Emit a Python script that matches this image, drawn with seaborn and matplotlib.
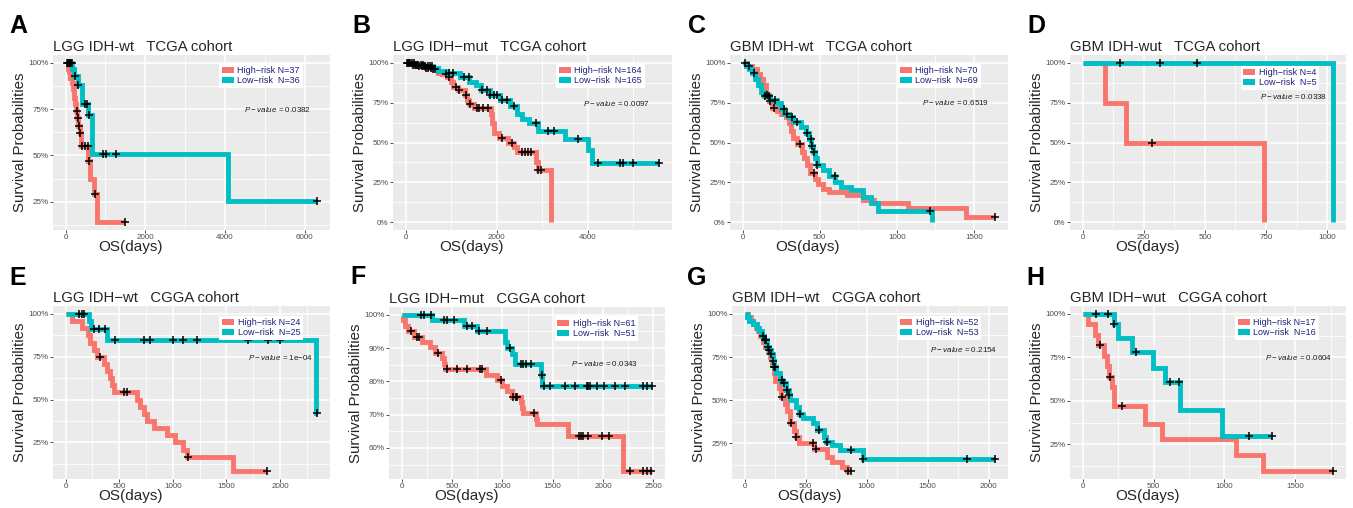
import numpy as np
import pandas as pd
import matplotlib
matplotlib.use("Agg")
import matplotlib.pyplot as plt
from matplotlib.patches import Patch
from matplotlib.ticker import AutoMinorLocator
import seaborn as sns

# ---------------- DATA ----------------
# Panel A: LGG IDH-wt TCGA
A_hi_t = [0, 50, 90, 120, 150, 190, 220, 245, 265, 290, 320, 350, 390, 570, 610, 720, 800, 1500]
A_hi_s = [1.0, 0.97, 0.95, 0.92, 0.89, 0.86, 0.81, 0.78, 0.74, 0.70, 0.66, 0.62, 0.55, 0.47, 0.37, 0.29, 0.14, 0.14]
A_hi_c = [280, 300, 335, 365, 400, 480, 550, 585, 750, 1500]
A_lo_t = [0, 160, 220, 300, 400, 570, 650, 4070, 6315]
A_lo_s = [1.0, 0.97, 0.93, 0.88, 0.78, 0.72, 0.51, 0.254, 0.254]
A_lo_c = [40, 70, 90, 110, 130, 150, 240, 320, 490, 540, 590, 940, 1020, 1270, 6315]

# Panel B: LGG IDH-mut TCGA
B_hi_t = [0, 150, 300, 450, 600, 700, 800, 900, 1000, 1050, 1150, 1300, 1350, 1400, 1500,
          1870, 1900, 1950, 2050, 2250, 2380, 2450, 2870, 2900, 3190]
B_hi_s = [1.0, 0.99, 0.98, 0.97, 0.96, 0.94, 0.93, 0.91, 0.88, 0.85, 0.83, 0.80, 0.77, 0.74, 0.72,
          0.68, 0.62, 0.56, 0.53, 0.50, 0.47, 0.44, 0.38, 0.33, 0.0]
B_hi_c = [50, 100, 150, 200, 250, 300, 350, 400, 450, 500, 550, 600, 650, 880, 960, 1100, 1180,
          1330, 1420, 1560, 1620, 1700, 1800, 2120, 2330, 2550, 2620, 2690, 2760, 2910, 2970]
B_lo_t = [0, 200, 400, 600, 700, 900, 1200, 1400, 1550, 1650, 1850, 2080, 2300, 2450, 2550,
          2700, 2900, 3500, 4000, 4100, 5570]
B_lo_s = [1.0, 0.99, 0.98, 0.97, 0.95, 0.94, 0.91, 0.88, 0.86, 0.83, 0.80, 0.77, 0.73, 0.68, 0.65,
          0.62, 0.57, 0.52, 0.45, 0.37, 0.37]
B_lo_c = [30, 80, 130, 180, 230, 280, 330, 380, 430, 480, 530, 580, 950, 1050, 1280, 1380, 1680,
          1790, 1860, 1940, 2010, 2120, 2230, 2380, 2860, 3120, 3265, 3780, 4220, 4700, 4775, 5000, 5570]

# Panel C: GBM IDH-wt TCGA
C_hi_t = [0, 30, 60, 90, 110, 130, 150, 170, 190, 220, 250, 280, 300, 315, 330, 350, 385, 400,
          420, 440, 470, 490, 520, 560, 680, 780, 850, 1070, 1450, 1640]
C_hi_s = [1.0, 0.98, 0.96, 0.93, 0.90, 0.86, 0.80, 0.76, 0.72, 0.70, 0.68, 0.66, 0.62, 0.57,
          0.53, 0.49, 0.44, 0.40, 0.36, 0.31, 0.27, 0.24, 0.21, 0.19, 0.17, 0.14, 0.12, 0.09, 0.03, 0.03]
C_hi_c = [160, 175, 205, 370, 465, 1640]
C_lo_t = [0, 20, 40, 60, 80, 100, 120, 140, 180, 220, 250, 270, 300, 330, 380, 410, 430, 445,
          455, 470, 480, 520, 560, 600, 640, 700, 780, 830, 880, 1230]
C_lo_s = [1.0, 0.98, 0.96, 0.94, 0.90, 0.86, 0.82, 0.79, 0.77, 0.75, 0.71, 0.68, 0.66, 0.63,
          0.60, 0.56, 0.52, 0.48, 0.44, 0.40, 0.36, 0.33, 0.29, 0.25, 0.22, 0.20, 0.16, 0.12, 0.07, 0.0]
C_lo_c = [15, 39, 71, 147, 169, 212, 266, 288, 320, 353, 418, 444, 450, 461, 483, 597, 1219]

# Panel D: GBM IDH-wut TCGA
D_hi_t = [0, 92, 176, 740]
D_hi_s = [1.0, 0.75, 0.5, 0.0]
D_hi_c = [285]
D_lo_t = [0, 1026]
D_lo_s = [1.0, 0.0]
D_lo_c = [153, 315, 466]

# Panel E: LGG IDH-wt CGGA
E_hi_t = [0, 62, 155, 208, 232, 263, 294, 356, 388, 418, 434, 450, 666, 697, 728, 760, 821,
          945, 1023, 1100, 1131, 1565, 1875]
E_hi_s = [1.0, 0.958, 0.917, 0.875, 0.833, 0.792, 0.75, 0.708, 0.667, 0.625, 0.583, 0.542,
          0.50, 0.458, 0.417, 0.375, 0.333, 0.292, 0.25, 0.208, 0.167, 0.083, 0.083]
E_hi_c = [325, 543, 574, 1147, 1875]
E_lo_t = [0, 217, 233, 388, 2340, 2350]
E_lo_s = [1.0, 0.958, 0.913, 0.845, 0.423, 0.423]
E_lo_c = [124, 155, 170, 263, 310, 372, 459, 728, 790, 1007, 1100, 1224, 1705, 1890, 2000, 2350]

# Panel F: LGG IDH-mut CGGA
F_hi_t = [0, 10, 30, 60, 120, 200, 280, 330, 400, 420, 430, 840, 950, 1000, 1050, 1100, 1190,
          1200, 1210, 1330, 1340, 1650, 2200, 2490]
F_hi_s = [1.0, 0.984, 0.967, 0.951, 0.934, 0.918, 0.902, 0.885, 0.869, 0.852, 0.836, 0.820,
          0.803, 0.787, 0.770, 0.754, 0.738, 0.721, 0.705, 0.688, 0.672, 0.636, 0.53, 0.53]
F_hi_c = [90, 150, 170, 360, 450, 550, 650, 780, 800, 990, 1110, 1140, 1150, 1310, 1760, 1780,
          1800, 1850, 1990, 2060, 2270, 2400, 2440, 2480]
F_lo_t = [0, 300, 620, 750, 1030, 1050, 1100, 1130, 1380, 1395, 2490]
F_lo_s = [1.0, 0.984, 0.967, 0.951, 0.917, 0.90, 0.882, 0.853, 0.82, 0.785, 0.785]
F_lo_c = [191, 224, 290, 422, 455, 521, 653, 702, 768, 851, 1072, 1181, 1210, 1240, 1280, 1389,
          1418, 1478, 1626, 1725, 1840, 1855, 1870, 1940, 2005, 2121, 2220, 2401, 2440, 2483]

# Panel G: GBM IDH-wt CGGA
G_hi_t = [0, 30, 50, 70, 90, 110, 130, 150, 170, 190, 210, 226, 240, 253, 280, 300, 330, 348,
          375, 402, 421, 443, 570, 674, 720, 796, 840, 875]
G_hi_s = [1.0, 0.98, 0.96, 0.94, 0.92, 0.90, 0.87, 0.84, 0.81, 0.78, 0.75, 0.71, 0.66, 0.61,
          0.57, 0.52, 0.48, 0.44, 0.37, 0.32, 0.29, 0.25, 0.22, 0.17, 0.145, 0.115, 0.09, 0.09]
G_hi_c = [307, 380, 425, 557, 584, 845, 875]
G_lo_t = [0, 20, 40, 70, 100, 120, 140, 160, 180, 200, 220, 230, 245, 260, 290, 310, 340, 360,
          375, 420, 450, 480, 560, 590, 650, 670, 720, 780, 970, 2055]
G_lo_s = [1.0, 0.98, 0.96, 0.94, 0.92, 0.90, 0.87, 0.85, 0.81, 0.79, 0.77, 0.73, 0.69, 0.66,
          0.62, 0.60, 0.56, 0.53, 0.50, 0.46, 0.42, 0.40, 0.37, 0.33, 0.29, 0.26, 0.24, 0.21, 0.16, 0.16]
G_lo_c = [150, 166, 177, 193, 204, 220, 231, 245, 253, 307, 326, 348, 361, 457, 606, 674, 870,
          973, 1823, 2055]

# Panel H: GBM IDH-wut CGGA
H_hi_t = [0, 40, 90, 110, 150, 170, 185, 210, 225, 440, 560, 1080, 1270, 1768]
H_hi_s = [1.0, 0.94, 0.88, 0.82, 0.76, 0.70, 0.64, 0.58, 0.47, 0.37, 0.28, 0.19, 0.097, 0.097]
H_hi_c = [125, 190, 280, 1768]
H_lo_t = [0, 220, 250, 345, 497, 580, 690, 980, 1337]
H_lo_s = [1.0, 0.94, 0.86, 0.78, 0.69, 0.61, 0.45, 0.30, 0.30]
H_lo_c = [96, 182, 222, 380, 614, 677, 1174, 1337]

letters = ["A", "B", "C", "D", "E", "F", "G", "H"]
titles = ["LGG IDH-wt   TCGA cohort", "LGG IDH\u2212mut   TCGA cohort",
          "GBM IDH-wt   TCGA cohort", "GBM IDH-wut   TCGA cohort",
          "LGG IDH\u2212wt   CGGA cohort", "LGG IDH\u2212mut   CGGA cohort",
          "GBM IDH\u2212wt   CGGA cohort", "GBM IDH\u2212wut   CGGA cohort"]
n_high = [37, 164, 70, 4, 24, 61, 52, 17]
n_low = [36, 165, 69, 5, 25, 51, 53, 16]
pvalues = ["0.0382", "0.0097", "0.6519", "0.0338", "1e\u221204", "0.0343", "0.2154", "0.0604"]
xticks = [[0, 2000, 4000, 6000], [0, 2000, 4000], [0, 500, 1000, 1500], [0, 250, 500, 750, 1000],
          [0, 500, 1000, 1500, 2000], [0, 500, 1000, 1500, 2000, 2500], [0, 500, 1000, 1500, 2000],
          [0, 500, 1000, 1500]]
yticks = [[0.25, 0.5, 0.75, 1.0], [0, 0.25, 0.5, 0.75, 1.0], [0, 0.25, 0.5, 0.75, 1.0],
          [0, 0.25, 0.5, 0.75, 1.0], [0.25, 0.5, 0.75, 1.0], [0.6, 0.7, 0.8, 0.9, 1.0],
          [0.25, 0.5, 0.75, 1.0], [0.25, 0.5, 0.75, 1.0]]

curves = [
    ((A_hi_t, A_hi_s, A_hi_c), (A_lo_t, A_lo_s, A_lo_c)),
    ((B_hi_t, B_hi_s, B_hi_c), (B_lo_t, B_lo_s, B_lo_c)),
    ((C_hi_t, C_hi_s, C_hi_c), (C_lo_t, C_lo_s, C_lo_c)),
    ((D_hi_t, D_hi_s, D_hi_c), (D_lo_t, D_lo_s, D_lo_c)),
    ((E_hi_t, E_hi_s, E_hi_c), (E_lo_t, E_lo_s, E_lo_c)),
    ((F_hi_t, F_hi_s, F_hi_c), (F_lo_t, F_lo_s, F_lo_c)),
    ((G_hi_t, G_hi_s, G_hi_c), (G_lo_t, G_lo_s, G_lo_c)),
    ((H_hi_t, H_hi_s, H_hi_c), (H_lo_t, H_lo_s, H_lo_c)),
]

# ---------------- LAYOUT / STYLE ----------------
W, H = 1353, 508
axes_px = [(53, 55, 330, 230), (393, 55, 672, 230), (730, 55, 1008, 230), (1070, 55, 1346, 230),
           (53, 306, 330, 479), (389, 307, 665, 479), (732, 306, 1008, 479), (1070, 306, 1346, 479)]
letter_px = [(9, 33), (352, 33), (688, 33), (1027, 33), (9, 285), (350, 284), (687, 285), (1026, 285)]
pval_pos = [(0.81, 0.69), (0.80, 0.72), (0.81, 0.73), (0.81, 0.765),
            (0.82, 0.70), (0.78, 0.67), (0.84, 0.75), (0.83, 0.70)]
legend_anchor = [(0.902, 0.952), (0.902, 0.952), (0.902, 0.952), (0.902, 0.94),
                 (0.902, 0.945), (0.902, 0.945), (0.902, 0.945), (0.902, 0.945)]

RED = "#F8766D"
TEAL = "#00BFC4"

sns.set_theme(style="darkgrid", rc={"axes.facecolor": "#EBEBEB", "grid.color": "white",
                                    "figure.facecolor": "white"})
plt.rcParams["font.family"] = ["Liberation Sans", "DejaVu Sans"]
plt.rcParams["mathtext.fontset"] = "custom"
plt.rcParams["mathtext.it"] = "Liberation Sans:italic"
plt.rcParams["mathtext.rm"] = "Liberation Sans"


def step_at(t, s, x):
    t = np.asarray(t, float)
    s = np.asarray(s, float)
    idx = np.searchsorted(t, np.asarray(x, float), side="right") - 1
    idx = np.clip(idx, 0, len(s) - 1)
    return s[idx]


fig = plt.figure(figsize=(W / 100, H / 100), dpi=100)

for i in range(8):
    l, t, r, b = axes_px[i]
    ax = fig.add_axes([l / W, 1 - b / H, (r - l) / W, (b - t) / H])
    all_t, all_s = [], []
    for (tt, ss, cc), col in zip(curves[i], [RED, TEAL]):
        df = pd.DataFrame({"time": tt, "surv": ss})
        sns.lineplot(data=df, x="time", y="surv", ax=ax, color=col, linewidth=3.5,
                     drawstyle="steps-post", estimator=None, sort=False, legend=False,
                     solid_joinstyle="miter", solid_capstyle="butt", zorder=2)
        all_t += list(tt) + list(cc)
        all_s += list(ss)
    for (tt, ss, cc), col in zip(curves[i], [RED, TEAL]):
        cdf = pd.DataFrame({"time": cc, "surv": step_at(tt, ss, cc)})
        sns.scatterplot(data=cdf, x="time", y="surv", ax=ax, marker="+", color="black",
                        s=34, linewidth=1.1, zorder=4, legend=False)
    xmax = max(all_t)
    ax.set_xlim(-0.05 * xmax, 1.05 * xmax)
    smin, smax = min(all_s), max(all_s)
    rng = smax - smin
    ax.set_ylim(smin - 0.05 * rng, smax + 0.05 * rng)

    ax.set_xticks(xticks[i])
    ax.set_xticklabels([str(v) for v in xticks[i]])
    ax.set_yticks(yticks[i])
    ax.set_yticklabels([f"{int(round(v * 100))}%" for v in yticks[i]])
    ax.xaxis.set_minor_locator(AutoMinorLocator(2))
    ax.yaxis.set_minor_locator(AutoMinorLocator(2))
    ax.grid(which="major", color="white", linewidth=1.1)
    ax.grid(which="minor", color="white", linewidth=0.55)
    ax.tick_params(axis="both", which="major", length=2.2, width=0.6, color="#333333",
                   labelsize=5.8, pad=1, labelcolor="#4D4D4D", bottom=True, left=True)
    ax.tick_params(axis="both", which="minor", length=0)
    for sp in ax.spines.values():
        sp.set_visible(False)

    ax.set_xlabel("OS(days)", fontsize=11)
    ax.xaxis.set_label_coords(0.28, -17 / (b - t))
    ax.xaxis.label.set_va("center")
    ax.set_ylabel("Survival Probabilities", fontsize=10.8)
    ax.yaxis.set_label_coords(-33 / (r - l), 0.5)
    ax.yaxis.label.set_va("center")

    ax.set_title(titles[i], loc="left", fontsize=10.7, pad=3)

    handles = [Patch(facecolor=RED, edgecolor="none"), Patch(facecolor=TEAL, edgecolor="none")]
    labels = [f"High\u2212risk N={n_high[i]}", f"Low\u2212risk  N={n_low[i]}"]
    leg = ax.legend(handles, labels, loc="upper right", bbox_to_anchor=legend_anchor[i],
                    borderaxespad=0, fontsize=6.5, frameon=True, fancybox=False,
                    facecolor="white", edgecolor="none", framealpha=1, borderpad=0.3,
                    handlelength=1.3, handleheight=0.7, handletextpad=0.4, labelspacing=0.12)
    for txt in leg.get_texts():
        txt.set_color("#1F1F7A")
    leg.set_zorder(6)

    px, py = pval_pos[i]
    ax.text(px, py, r"$\it{P-value}$ = " + pvalues[i], transform=ax.transAxes,
            fontsize=5.8, ha="center", va="center", color="#1A1A1A", zorder=6)

    lx, ly = letter_px[i]
    fig.text(lx / W, 1 - ly / H, letters[i], fontsize=18, fontweight="bold",
             ha="left", va="baseline", color="black")

fig.savefig("out.png", dpi=100)
